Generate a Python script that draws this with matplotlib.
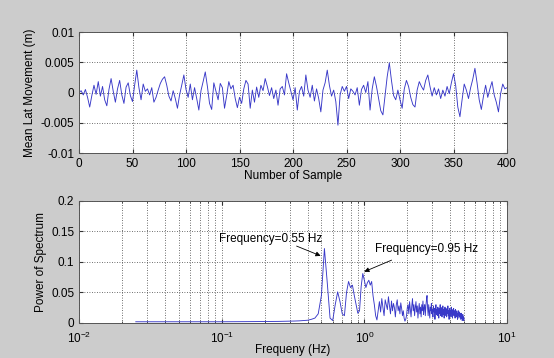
import numpy as np
import matplotlib
matplotlib.use("Agg")
import matplotlib.pyplot as plt
from matplotlib.ticker import LogLocator, FixedLocator, NullFormatter

plt.rcParams['font.family'] = ['Liberation Sans', 'DejaVu Sans']
plt.rcParams['mathtext.default'] = 'regular'

# top panel: lateral movement, every 2nd sample, in units of 1e-3 m
lat_mm = [
    0.0, 0.3, -0.4, 0.5, -0.8, -2.4, -0.5, 1.2, -0.3, 1.8,
    -0.6, 1.0, -1.2, -2.2, 0.5, 2.3, 0.2, -1.6, 0.6, 2.0,
    -0.4, -1.8, 0.9, 1.6, -0.5, -1.5, 1.2, 3.7, 0.8, -1.2,
    1.4, 0.2, 0.6, -0.4, 0.8, -1.6, -0.8, 0.4, 1.5, 2.2,
    2.6, 1.2, -0.6, -1.4, 0.3, -1.0, -2.6, -0.4, 1.2, 2.9,
    0.5, -0.8, 1.4, -1.2, 0.8, -1.0, -2.9, 0.3, 1.8, 3.4,
    1.0, -1.8, -2.8, 1.6, 0.2, -1.2, 1.5, 0.8, -2.6, -0.5,
    1.8, 0.6, 1.2, -1.0, -2.5, -0.8, -1.8, 0.6, 2.0, 1.4,
    -2.6, 0.4, -1.6, 0.9, -0.8, 1.2, 0.3, 2.3, 1.0, -0.5,
    0.8, -1.0, 0.4, -2.1, 0.6, 1.0, -0.4, 3.1, 1.6, 0.2,
    -1.2, 0.8, -2.9, 0.2, 1.0, -0.6, 2.9, 0.4, -0.8, 1.2,
    -1.4, 0.6, -1.0, -3.2, 0.4, 1.6, 3.7, 1.2, -0.6, 0.4,
    -1.5, -5.4, -0.4, 1.0, 0.2, 1.0, -1.0, 0.6, 0.2, -0.4,
    0.8, -2.1, 0.5, 1.2, 0.0, 1.8, -2.9, 0.6, 2.6, 1.0,
    -1.0, -3.0, -3.7, -0.6, 2.6, 4.9, 2.0, -0.5, -1.2, 0.4,
    -1.2, -2.6, 0.6, 2.0, 1.0, -0.8, -2.0, -2.4, 0.4, 1.8,
    1.0, 0.4, 2.0, 2.9, 1.0, -0.6, 0.8, -0.4, 0.6, -1.0,
    0.4, -0.6, 1.0, -0.2, 1.6, 3.1, 1.2, -2.4, -4.0, -1.2,
    1.4, 0.4, -1.0, 0.8, 2.2, 4.0, 1.6, -1.2, -2.8, -0.6,
    1.2, -0.8, 0.6, 1.8, -0.4, -1.6, -3.2, -0.2, 1.4, 0.6,
    0.8,
]

# bottom panel: power spectrum, bins of 0.025 Hz starting at 0.025 Hz
power = [
    0.002, 0.002, 0.002, 0.002, 0.0022, 0.0022, 0.0023, 0.0024, 0.0025, 0.0026,
    0.0028, 0.003, 0.0032, 0.0035, 0.004, 0.0045, 0.006,
    0.008, 0.015, 0.045, 0.122, 0.065, 0.008, 0.004, 0.03, 0.051, 0.035,
    0.015, 0.012, 0.05, 0.068, 0.058, 0.062, 0.045, 0.03, 0.016, 0.02,
    0.06, 0.081, 0.07, 0.058, 0.066, 0.07, 0.062, 0.068, 0.045, 0.03,
    0.012, 0.005, 0.02,
    0.035, 0.018, 0.04, 0.025, 0.012, 0.038, 0.03, 0.022, 0.043, 0.028,
    0.015, 0.036, 0.02, 0.032, 0.025, 0.01, 0.03, 0.038, 0.02, 0.028,
    0.015, 0.033, 0.024, 0.012, 0.02,
    0.008, 0.003, 0.006, 0.012, 0.025,
    0.03, 0.015, 0.035, 0.022, 0.01, 0.028, 0.04, 0.02, 0.03, 0.012,
    0.025, 0.035, 0.018, 0.028, 0.008, 0.022, 0.032, 0.015, 0.026, 0.01,
    0.03, 0.02, 0.036, 0.014, 0.025, 0.03, 0.012, 0.028, 0.038, 0.045,
    0.025, 0.012, 0.03, 0.018, 0.008, 0.026, 0.02, 0.032, 0.015, 0.022,
    0.01, 0.028, 0.018, 0.024, 0.006, 0.02, 0.03, 0.014, 0.022, 0.012,
    0.026, 0.018, 0.008, 0.024, 0.016, 0.03, 0.012, 0.02, 0.025, 0.01,
    0.018, 0.028, 0.014, 0.022, 0.008, 0.02, 0.026, 0.012, 0.018, 0.024,
    0.01, 0.022, 0.016, 0.028, 0.012, 0.02, 0.006, 0.018, 0.024, 0.014,
    0.02, 0.01, 0.026, 0.016, 0.022, 0.008, 0.018, 0.014, 0.024, 0.012,
    0.02, 0.016, 0.008, 0.022, 0.012, 0.018, 0.01, 0.02, 0.014, 0.006,
    0.016, 0.012, 0.02, 0.008, 0.014, 0.018, 0.01, 0.015, 0.006, 0.012,
    0.016, 0.008, 0.012, 0.004, 0.01, 0.014, 0.006, 0.01, 0.004, 0.008,
]

samples = np.arange(len(lat_mm)) * 2
lat = np.array(lat_mm) * 1e-3
freq = 0.025 * np.arange(1, len(power) + 1)

BG = '#cccccc'
LINE = '#3838c8'
FS = 8.5

fig = plt.figure(figsize=(5.54, 3.58), dpi=100, facecolor=BG)
ax1 = fig.add_axes([0.1426, 0.5726, 0.7726, 0.338])
ax2 = fig.add_axes([0.1426, 0.0978, 0.7726, 0.341])

grid_kw = dict(color='#404040', linestyle=(0, (1, 2)), linewidth=0.6)

# top
ax1.plot(samples, lat, color=LINE, linewidth=0.65)
ax1.set_xlim(0, 400)
ax1.set_ylim(-0.01, 0.01)
ax1.set_xticks(np.arange(0, 401, 50))
ax1.set_yticks([-0.01, -0.005, 0, 0.005, 0.01])
ax1.set_yticklabels(['-0.01', '-0.005', '0', '0.005', '0.01'])
ax1.grid(True, **grid_kw)
ax1.set_xlabel('Number of Sample', fontsize=FS, labelpad=0)
ax1.set_ylabel('Mean Lat Movement (m)', fontsize=FS, labelpad=3)

# bottom
ax2.semilogx(freq, power, color=LINE, linewidth=0.65)
ax2.set_xlim(0.01, 10)
ax2.set_ylim(0, 0.2)
ax2.set_yticks([0, 0.05, 0.1, 0.15, 0.2])
ax2.set_yticklabels(['0', '0.05', '0.1', '0.15', '0.2'])
ax2.xaxis.set_major_locator(FixedLocator([0.01, 0.1, 1, 10]))
ax2.set_xticklabels(['$10^{-2}$', '$10^{-1}$', '$10^{0}$', '$10^{1}$'])
ax2.xaxis.set_minor_locator(LogLocator(base=10, subs=np.arange(2, 10)))
ax2.xaxis.set_minor_formatter(NullFormatter())
ax2.grid(True, which='both', axis='x', **grid_kw)
ax2.grid(True, which='major', axis='y', **grid_kw)
ax2.set_xlabel('Frequeny (Hz)', fontsize=FS, labelpad=-1)
ax2.set_ylabel('Power of Spectrum', fontsize=FS, labelpad=3)

ax2.text(0.0957, 0.138, 'Frequency=0.55 Hz', fontsize=FS, va='center', ha='left')
ax2.annotate('', xy=(0.494, 0.110), xytext=(0.335, 0.126),
             arrowprops=dict(arrowstyle='-|>', color='black', lw=0.6,
                             mutation_scale=7, shrinkA=0, shrinkB=0))
ax2.text(1.186, 0.121, 'Frequency=0.95 Hz', fontsize=FS, va='center', ha='left')
ax2.annotate('', xy=(0.998, 0.084), xytext=(1.553, 0.103),
             arrowprops=dict(arrowstyle='-|>', color='black', lw=0.6,
                             mutation_scale=7, shrinkA=0, shrinkB=0))

for ax in (ax1, ax2):
    ax.set_facecolor('white')
    ax.tick_params(which='both', direction='in', top=True, right=True,
                   labelsize=FS, length=3, color='#333333')
    ax.tick_params(which='minor', length=1.5)
    for s in ax.spines.values():
        s.set_color('#555555')
        s.set_linewidth(0.7)

# keep the "0" y label clear of the 10^-2 label
ax2.tick_params(axis='x', which='major', pad=5.5)

fig.savefig('out.png', dpi=100, facecolor=BG)
